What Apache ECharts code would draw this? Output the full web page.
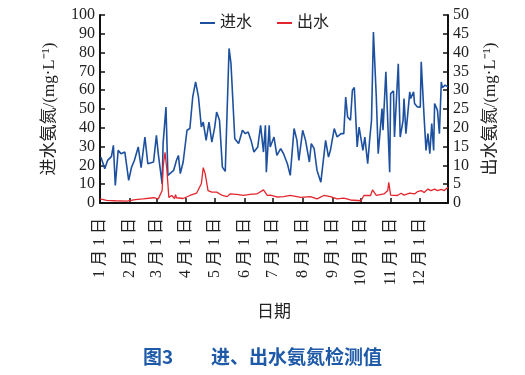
<!DOCTYPE html>
<html><head><meta charset="utf-8">
<script src="https://cdn.jsdelivr.net/npm/echarts@6/dist/echarts.min.js"></script>
<style>html,body{margin:0;padding:0;background:#fff}#c{width:525px;height:375px}</style>
</head><body><div id="c"></div>
<script>
// x positions are day-of-year (0 = 1月1日)
const monthStartDays = [0, 31, 59, 90, 120, 151, 181, 212, 243, 273, 304, 334];
const monthLabels = ['1月1日','2月1日','3月1日','4月1日','5月1日','6月1日','7月1日','8月1日','9月1日','10月1日','11月1日','12月1日'];
const leftTickMax = 100, leftTickStep = 10;
const rightTickMax = 50, rightTickStep = 5;

// 进水 (left axis, mg/L)
const inDays = [1,5,8,12,14,16,19,22,26,30,33,36,40,43,47,50,56,59,61,65,66,69,71,73,77,80,82,84,87,91,94,97,100,103,106,108,111,114,117,120,122,125,128,131,135,137,141,145,149,152,155,158,161,165,168,171,173,174,177,178,182,185,189,192,196,199,203,206,208,212,215,219,221,224,227,231,233,236,239,241,245,248,252,255,257,259,262,264,266,269,271,275,277,280,282,284,286,289,291,295,296,299,303,304,307,308,312,314,317,318,320,324,325,328,329,332,335,336,339,341,343,345,347,349,350,353,355,357,358,361,364];
const inValues = [24.4,18.2,22.7,24.8,30.7,9.3,28,26.2,27.1,12,19,22.7,29.8,18.8,35.1,20.9,21.8,36,26,10.2,31.6,51,14.7,15.6,17.3,22.7,25.3,15.6,21.8,38.7,39.6,56.4,64.4,56.4,40.4,43,33.3,43,32.4,40.4,48.4,44,19.1,16.8,82.2,74.2,34.2,31.6,38.7,36.9,37.8,33.3,27.1,29.8,41.3,27.1,41.3,16.4,41.3,29.8,35.1,25.3,28.9,26.2,20.9,14.7,39.6,33.3,22.7,38.7,33.3,21.8,31.6,28.9,17.3,11.1,11.5,33.3,24.4,28,39.6,35.1,36.9,36.9,56.4,45.8,44,60,61.4,29.8,40.4,28,35.1,20.9,33.3,44,91,56.4,26.2,50.2,38.7,69.8,16.4,58.2,59.6,35.1,74,35.1,44,55.6,36.9,59.1,55.6,59.1,52.9,51.1,51,75.1,45.8,28,36.9,26.2,42.2,28,52.9,49.3,36.9,64.4,61.4,62.7,61.8];

// 出水 (right axis, mg/L)
const outDays = [0,7,16,28,37,45,56,61,65,66,68,70,72,75,78,79,80,87,94,101,106,108,110,113,117,122,128,133,136,143,150,157,164,171,175,178,185,192,199,210,220,227,234,241,248,255,262,273,276,283,285,289,297,301,302,304,311,315,318,324,329,332,336,339,343,346,350,353,357,360,364];
const outValues = [1.1,0.7,0.6,0.5,0.9,1.1,1.4,1.1,3.3,9.5,13.5,8.7,1.5,2,1.2,2.2,1.4,1.2,2,2.6,5.1,9.4,7.8,3.3,2.9,2.9,2,1.7,2.4,2.3,2,2.3,2.4,3.5,2,2.1,1.6,1.7,2,1.5,1.7,1.1,2,1.7,1.1,1.3,0.8,0.6,2,2,3.5,2,2.4,3.3,5.5,2.1,2,2.6,2.1,2.6,2.4,3,3.3,2.8,3.7,3.3,3.7,3.3,3.6,3.3,4.2];

const pair = (xs, ys) => xs.map((d, i) => [d, ys[i]]);
const FONT = '"Liberation Serif","Noto Sans CJK SC",serif';
const BLUE = '#1d519f', RED = '#e3262d';

const chart = echarts.init(document.getElementById('c'), null, {renderer: 'canvas'});
chart.setOption({
  animation: false,
  backgroundColor: '#fff',
  grid: {left: 100, right: 77, top: 15, bottom: 172},
  legend: {
    left: 195, top: 10, itemGap: 25, itemWidth: 15, itemHeight: 2,
    icon: 'rect',
    textStyle: {fontFamily: FONT, fontSize: 16, color: '#222'},
    data: ['进水', '出水']
  },
  title: {
    text: '图3\u3000\u3000进、出水氨氮检测值',
    left: 'center', top: 342,
    textStyle: {fontFamily: '"Noto Sans CJK SC",sans-serif', fontSize: 19, fontWeight: 'bold', color: '#1e5aa8'}
  },
  xAxis: {
    type: 'value', min: 0, max: 364,
    name: '日期', nameLocation: 'middle', nameGap: 101,
    nameTextStyle: {fontFamily: FONT, fontSize: 17, color: '#222'},
    splitLine: {show: false},
    axisLine: {show: true, lineStyle: {color: '#111', width: 2}},
    axisTick: {show: true, inside: true, length: 5, lineStyle: {color: '#111', width: 1.5}, customValues: monthStartDays},
    axisLabel: {
      rotate: 90, margin: 15, fontFamily: FONT, fontSize: 16, color: '#222',
      customValues: monthStartDays,
      padding: [0, 0, 8, 0],
      formatter: v => {
        const i = monthStartDays.indexOf(Math.round(v));
        return i < 0 ? '' : monthLabels[i].replace('月', ' 月 ').replace('日', ' 日');
      }
    }
  },
  yAxis: [{
    type: 'value', min: 0, max: leftTickMax, interval: leftTickStep, position: 'left',
    name: '进水氨氮/(mg·L⁻¹)', nameLocation: 'middle', nameGap: 42, nameRotate: 90,
    nameTextStyle: {fontFamily: FONT, fontSize: 17, color: '#222'},
    splitLine: {show: false},
    axisLine: {show: true, lineStyle: {color: '#111', width: 2}},
    axisTick: {show: true, inside: true, length: 5, lineStyle: {color: '#111', width: 1.5}},
    axisLabel: {margin: 5, fontFamily: FONT, fontSize: 16, color: '#222'}
  }, {
    type: 'value', min: 0, max: rightTickMax, interval: rightTickStep, position: 'right',
    name: '出水氨氮/(mg·L⁻¹)', nameLocation: 'middle', nameGap: 34, nameRotate: 90,
    nameTextStyle: {fontFamily: FONT, fontSize: 17, color: '#222'},
    splitLine: {show: false},
    axisLine: {show: true, lineStyle: {color: '#111', width: 2}},
    axisTick: {show: true, inside: true, length: 5, lineStyle: {color: '#111', width: 1.5}},
    axisLabel: {margin: 5, fontFamily: FONT, fontSize: 16, color: '#222'}
  }],
  series: [{
    name: '进水', type: 'line', yAxisIndex: 0, data: pair(inDays, inValues),
    showSymbol: false, symbol: 'none', color: BLUE,
    lineStyle: {color: BLUE, width: 1.6}
  }, {
    name: '出水', type: 'line', yAxisIndex: 1, data: pair(outDays, outValues),
    showSymbol: false, symbol: 'none', color: RED,
    lineStyle: {color: RED, width: 1.3}
  }]
});
</script>
</body></html>
